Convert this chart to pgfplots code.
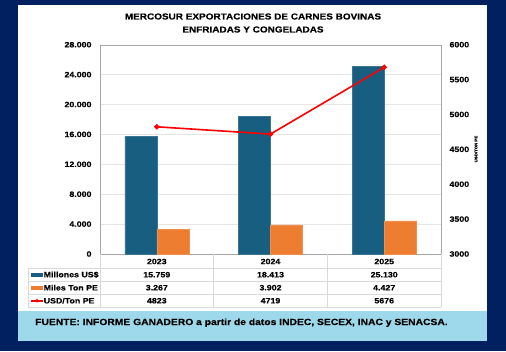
\documentclass[border=0pt]{standalone}
\usepackage{fontspec}
\setmainfont[FakeStretch=1.15, BoldFeatures={FakeBold=0.4}]{Liberation Sans}
\usepackage{pgfplots}
\pgfplotsset{compat=1.18}
\definecolor{navy}{HTML}{002060}
\definecolor{barblue}{HTML}{175E80}
\definecolor{barorange}{HTML}{ED7D31}
\definecolor{footblue}{HTML}{9DD9EA}
\definecolor{gridgray}{HTML}{E6E6E6}
\definecolor{axgray}{HTML}{A6A6A6}
\definecolor{tabgray}{HTML}{D9D9D9}
\newcommand{\tf}{\bfseries\fontsize{7.7}{8}\selectfont}
\begin{document}
\begin{tikzpicture}[x=1bp,y=1bp]
\fill[navy] (0,0) rectangle (506,351);
\fill[white] (18,{351-311}) rectangle (487,{351-5});
\fill[footblue] (18,{351-341}) rectangle (487,{351-311});
% title
\node[font=\bfseries\fontsize{8.7}{10}\selectfont] at (253,{351-16.5}) {MERCOSUR EXPORTACIONES DE CARNES BOVINAS};
\node[font=\bfseries\fontsize{8.7}{10}\selectfont] at (253,{351-29.5}) {ENFRIADAS Y CONGELADAS};
% axis 1
\begin{axis}[at={(100bp,97bp)}, anchor=south west, scale only axis,
  width=341bp, height=209.3bp,
  xmin=-0.5, xmax=2.5, ymin=0, ymax=28000,
  ytick={0,4000,...,28000}, xtick={0,1,2}, xticklabels={},
  scaled y ticks=false,
  axis line style={axgray}, ymajorgrids, grid style={gridgray},
  tick style={draw=none},
  /pgf/number format/1000 sep={.},
  /pgf/number format/assume math mode=true,
  yticklabel style={font=\tf, xshift=-5bp},
  clip=false]
\addplot[ybar, bar width=32bp, bar shift=-16bp, fill=barblue, draw=barblue!85!white] coordinates {(0,15759) (1,18413) (2,25130)};
\addplot[ybar, bar width=32bp, bar shift=16bp, fill=barorange, draw=barorange!85!white] coordinates {(0,3267) (1,3902) (2,4427)};
\end{axis}
% axis 2
\begin{axis}[at={(100bp,97bp)}, anchor=south west, scale only axis,
  width=341bp, height=209.3bp,
  xmin=-0.5, xmax=2.5, ymin=3000, ymax=6000,
  ytick={3000,3500,...,6000},
  scaled y ticks=false,
  axis x line=none, axis y line*=right,
  y axis line style={draw=none},
  tick style={draw=none},
  /pgf/number format/1000 sep={},
  /pgf/number format/assume math mode=true,
  yticklabel style={font=\tf, xshift=5bp},
  clip=false]
\addplot[red, line width=1.6bp, mark=*, mark size=1.8bp, mark options={fill=red, draw=red, solid}] coordinates {(0,4823) (1,4719) (2,5676)};
\end{axis}
\node[rotate=90, font=\bfseries\fontsize{3.8}{4}\selectfont] at (476,{351-149}) {USD/TON PE};
% data table
\begin{scope}[tabgray, line width=0.6bp]
\foreach \yy in {268.3,281,294,307} \draw (28,{351-\yy}) -- (441,{351-\yy});
\draw (28,{351-268.3}) -- (28,{351-307});
\foreach \xx in {100,213.7,327.3,441} \draw (\xx,{351-254}) -- (\xx,{351-307});
\end{scope}
\foreach \xx/\a/\b/\c/\d in {156.8/2023/15.759/3.267/4823, 270.5/2024/18.413/3.902/4719, 384.2/2025/25.130/4.427/5676}{
  \node[font=\tf] at (\xx,{351-261.5}) {\a};
  \node[font=\tf] at (\xx,{351-274.7}) {\b};
  \node[font=\tf] at (\xx,{351-287.7}) {\c};
  \node[font=\tf] at (\xx,{351-300.7}) {\d};
}
\fill[barblue] (31,{351-276.8}) rectangle (42.5,{351-272.6});
\fill[barorange] (31,{351-289.8}) rectangle (42.5,{351-285.6});
\draw[red, line width=1.6bp] (31,{351-300.7}) -- (43,{351-300.7});
\fill[red] (37,{351-300.7}) circle (1.8bp);
\node[font=\tf, anchor=west, inner sep=0pt] at (43.5,{351-274.7}) {Millones US\$};
\node[font=\tf, anchor=west, inner sep=0pt] at (43.5,{351-287.7}) {Miles Ton PE};
\node[font=\tf, anchor=west, inner sep=0pt] at (43.5,{351-300.7}) {USD/Ton PE};
% footer
\node[font=\bfseries\fontsize{9}{11}\selectfont, anchor=west, inner sep=0pt] at (35,{351-322.7}) {FUENTE: INFORME GANADERO a partir de datos INDEC, SECEX, INAC y SENACSA.};
\end{tikzpicture}
\end{document}
